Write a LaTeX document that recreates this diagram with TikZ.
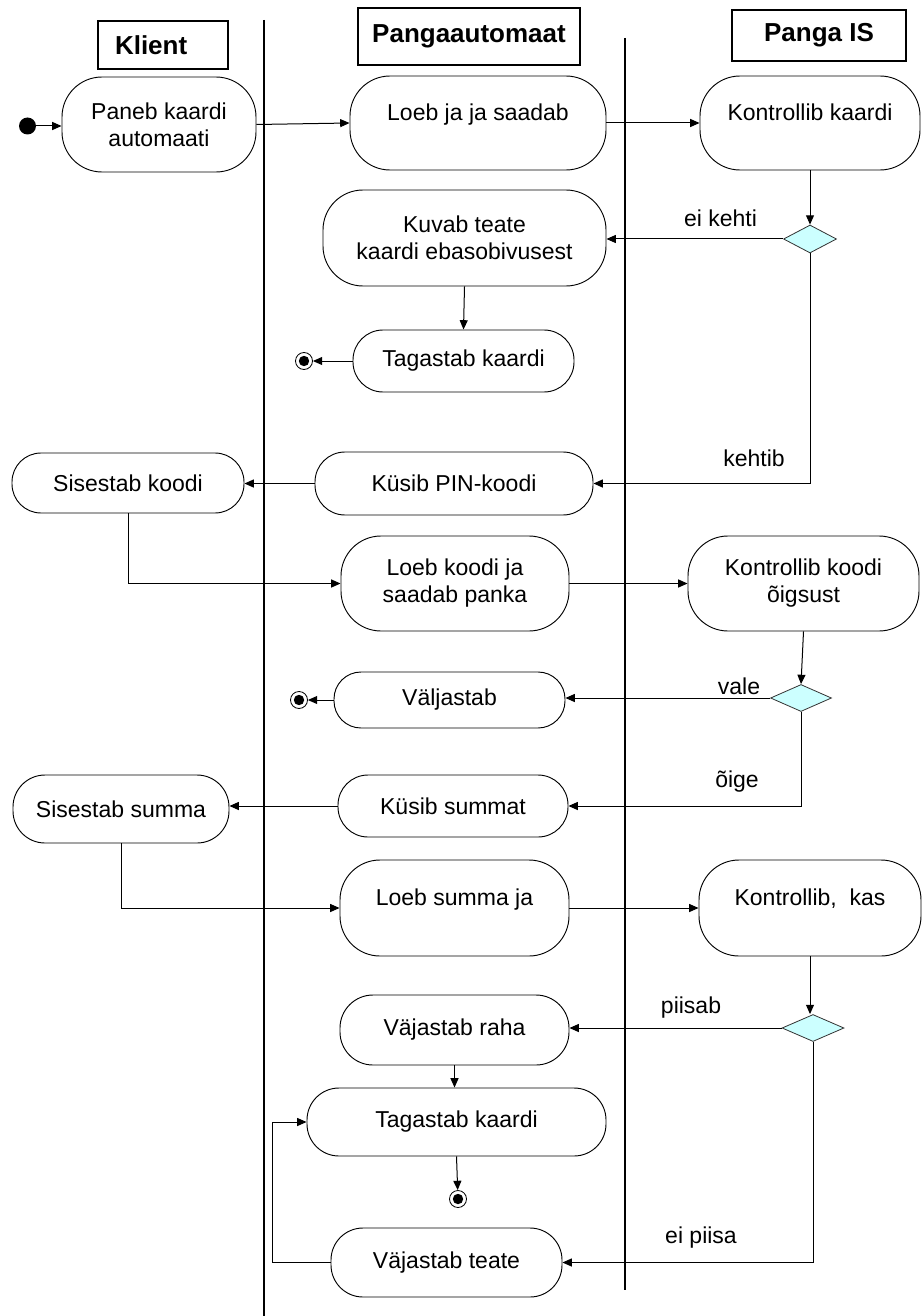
\documentclass[tikz,border=0pt]{standalone}
\usepackage{fontspec}
\setmainfont{Liberation Sans}
\usetikzlibrary{arrows.meta,shapes.geometric}
\definecolor{decfill}{HTML}{CCFFFF}
\begin{document}
\begin{tikzpicture}[x=0.75pt,y=-0.75pt,
  act/.style={draw, line width=0.7pt, rounded corners=30pt, align=center, inner sep=0pt,
    font=\fontsize{17.25}{20.25}\selectfont},
  rc/.style={rounded corners=#1*0.75pt},
  sz/.style 2 args={minimum width=#1*0.75pt, minimum height=#2*0.75pt},
  hdr/.style={draw, line width=0.8pt, inner sep=0pt, font=\fontsize{19.5}{22}\selectfont\bfseries},
  dec/.style={diamond, aspect=2, draw=black!80, line width=0.6pt, fill=decfill, inner sep=0pt},
  startn/.style={circle, fill=black, inner sep=0pt, minimum size=12.75pt},
  endn/.style={circle, draw, line width=0.6pt, inner sep=0pt, minimum size=12.75pt,
    path picture={\fill (path picture bounding box.center) circle (3.9pt);}},
  lbl/.style={inner sep=0pt, font=\fontsize{17.25}{20.25}\selectfont},
  arr/.style={draw, line width=0.75pt, -{Triangle[length=7pt,width=6pt]}},
  lane/.style={line width=1.6pt}]
\useasboundingbox (0,0) rectangle (922,1316);

% swimlanes
\draw[lane] (264,20) -- (264,1316);
\draw[lane] (625,38) -- (625,1290);

% headers
\node[hdr, sz={130}{48}, text width=96*0.75pt, align=left, inner xsep=12.75pt] (hk) at (163,45) {Klient};
\node[hdr, sz={222}{57}] (hp) at (469,36.5) {Pangaautomaat};
\node[hdr, sz={174}{51}] (hi) at (819,35.5) {Panga IS};

% activities
\node[startn] (init) at (27.5,126) {};
\node[act, sz={194}{95}] (n1) at (159,124.5) {Paneb kaardi\\automaati};
\node[act, sz={256}{94}] (n2) at (478,123) {Loeb ja ja saadab\\[-4pt]\mbox{}};
\node[act, sz={220}{94}] (n3) at (810,123) {Kontrollib kaardi\\[-4pt]\mbox{}};
\node[dec, sz={53}{28}] (d1) at (810,239) {};
\node[act, sz={283}{96}] (n4) at (464.5,238) {Kuvab teate\\kaardi ebasobivusest};
\node[act, rc=30, sz={221}{62}] (n5) at (463.5,361) {Tagastab kaardi};
\node[endn] (f1) at (304,361) {};
\node[act, rc=30, sz={278}{63}] (n6) at (454,483.5) {Küsib PIN-koodi};
\node[act, rc=29, sz={232}{60}] (n7) at (128,483) {Sisestab koodi};
\node[act, sz={228}{95}] (n8) at (455,583.5) {Loeb koodi ja\\saadab panka};
\node[act, sz={231}{95}] (n9) at (803.5,583.5) {Kontrollib koodi\\õigsust};
\node[dec, sz={61}{27}] (d2) at (801,698) {};
\node[act, rc=27, sz={231}{56}] (n10) at (449.5,700) {Väljastab};
\node[endn] (f2) at (299,700) {};
\node[act, rc=30, sz={230}{62}] (n11) at (453,806) {Küsib summat};
\node[act, rc=32, sz={216}{68}] (n12) at (121,809) {Sisestab summa};
\node[act, sz={229}{96}] (n13) at (454.5,908) {Loeb summa ja\\[-4pt]\mbox{}};
\node[act, sz={222}{96}] (n14) at (810,908) {Kontrollib,\ \ kas\\[-4pt]\mbox{}};
\node[dec, sz={62}{27}] (d3) at (813,1028) {};
\node[act, rc=33, sz={229}{70}] (n15) at (454.5,1030) {Väjastab raha};
\node[act, rc=32, sz={299}{68}] (n16) at (456.5,1122) {Tagastab kaardi};
\node[endn] (f3) at (458,1199) {};
\node[act, rc=32, sz={231}{69}] (n17) at (446.5,1262.5) {Väjastab teate};
\coordinate (loop) at (272,1262.5);

% labels
\node[lbl] (l1) at (720.5,218) {ei kehti};
\node[lbl] (l2) at (754,458) {kehtib};
\node[lbl] (l3) at (739,686) {vale};
\node[lbl] (l4) at (737,782) {õige};
\node[lbl] (l5) at (691,1008) {piisab};
\node[lbl] (l6) at (701,1238) {ei piisa};

% connectors
\draw[arr] (init) -- (init -| n1.west);
\draw[arr] (n1.east) -- (n2.west);
\draw[arr] (n2.east) -- (n3.west);
\draw[arr] (n3.south) -- (d1.north);
\draw[arr] (d1.west) -- (d1.west -| n4.east);
\draw[arr] (n4.south) -- (n5.north);
\draw[arr] (n5.west) -- (f1);
\draw[arr] (d1.south) |- (n6.east);
\draw[arr] (n6.west) -- (n6.west -| n7.east);
\draw[arr] (n7.south) |- (n8.west);
\draw[arr] (n8.east) -- (n9.west);
\draw[arr] (n9.south) -- (d2.north);
\draw[arr] (d2.west) -- (d2.west -| n10.east);
\draw[arr] (n10.west) -- (f2);
\draw[arr] (d2.south) |- (n11.east);
\draw[arr] (n11.west) -- (n11.west -| n12.east);
\draw[arr] (n12.south) |- (n13.west);
\draw[arr] (n13.east) -- (n14.west);
\draw[arr] (n14.south) -- (n14.south |- d3.north);
\draw[arr] (d3.west) -- (d3.west -| n15.east);
\draw[arr] (n15.south) -- (n15.south |- n16.north);
\draw[arr] (n16.south) -- (f3);
\draw[arr] (d3.south) |- (n17.east);
\draw[arr] (n17.west) -- (loop) |- (n16.west);
\end{tikzpicture}
\end{document}
